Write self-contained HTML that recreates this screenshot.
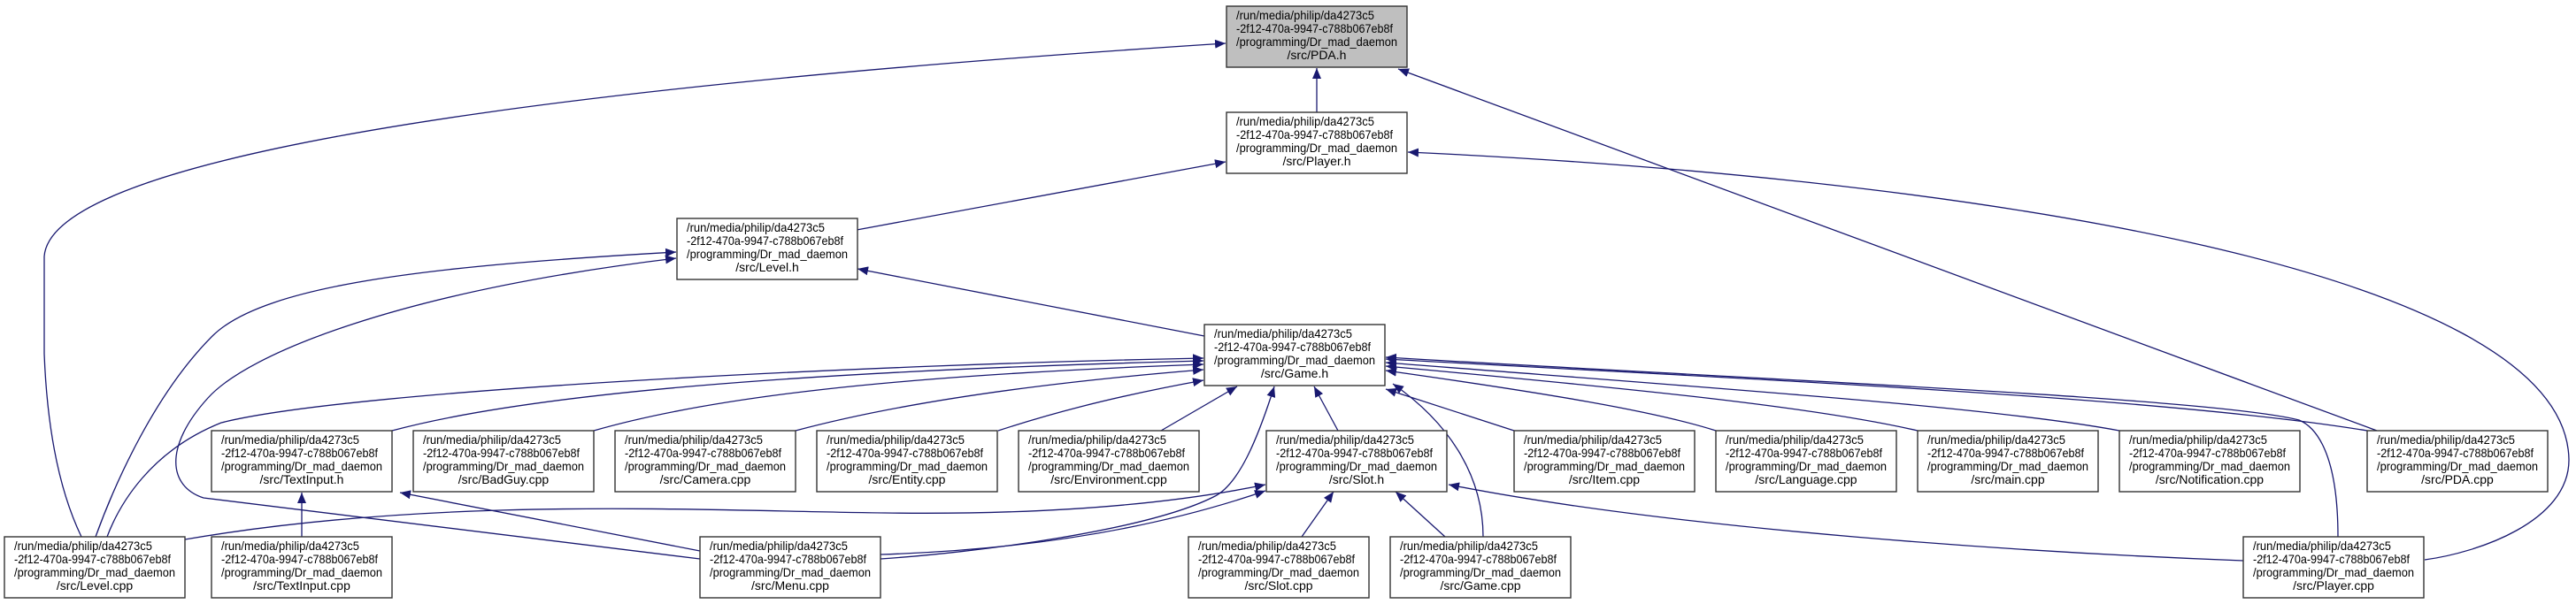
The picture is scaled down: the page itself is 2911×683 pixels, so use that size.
<!DOCTYPE html>
<html><head><meta charset="utf-8"><style>
html,body{margin:0;padding:0;background:#fff;}
svg{display:block;}
text{font-family:"Liberation Sans",Arial,sans-serif;font-size:14px;fill:#000;}
.b{fill:#fff;stroke:#333;stroke-width:1.4;}
.g{fill:#bfbfbf;stroke:#333;stroke-width:1.4;}
.e{fill:none;stroke:#191970;stroke-width:1.3;marker-start:url(#a);}
</style></head><body>
<svg width="2911" height="683" viewBox="0 0 2911 683" xmlns="http://www.w3.org/2000/svg">
<defs>
<marker id="a" viewBox="0 0 12 10" refX="12" refY="5" markerWidth="12" markerHeight="10" markerUnits="userSpaceOnUse" orient="auto-start-reverse">
<path d="M0,0 L12,5 L0,10 Z" fill="#191970"/>
</marker>
<g id="h">
<text x="11" y="15" textLength="156" lengthAdjust="spacingAndGlyphs">/run/media/philip/da4273c5</text>
<text x="11" y="30" textLength="177" lengthAdjust="spacingAndGlyphs">-2f12-470a-9947-c788b067eb8f</text>
<text x="11" y="45" textLength="182" lengthAdjust="spacingAndGlyphs">/programming/Dr_mad_daemon</text>
</g>
</defs>

<!-- edges -->
<path class="e" d="M1488,77 L1488,127"/>
<path class="e" d="M1385,49 C900,80 60,150 50,290 L50,400 Q55,530 92,607"/>
<path class="e" d="M1580,78 L2686,487"/>
<path class="e" d="M1385,183 L968,260"/>
<path class="e" d="M1591,172 C2200,200 2900,300 2903,520 C2903,590 2800,625 2740,633"/>
<path class="e" d="M764,285 C500,300 300,320 240,380 C170,450 125,560 108,607"/>
<path class="e" d="M764,292 C450,330 280,400 235,450 C185,505 190,550 230,563 L791,632"/>
<path class="e" d="M969,304 L1361,380"/>
<path class="e" d="M1360,405 C1000,412 400,440 250,478 C170,510 135,570 121,607"/>
<path class="e" d="M1360,408 C900,420 600,445 443,487"/>
<path class="e" d="M1360,412 C1000,425 800,450 671,487"/>
<path class="e" d="M1360,418 C1150,435 1000,460 899,487"/>
<path class="e" d="M1360,430 C1250,450 1180,470 1128,487"/>
<path class="e" d="M1398,437 L1312,487"/>
<path class="e" d="M1485,437 L1512,487"/>
<path class="e" d="M1440,437 C1420,500 1400,545 1375,560 C1300,600 1100,625 995,632"/>
<path class="e" d="M1574,434 C1640,480 1676,540 1676,607"/>
<path class="e" d="M1566,440 L1711,487"/>
<path class="e" d="M1566,419 C1750,445 1870,465 1939,487"/>
<path class="e" d="M1566,414 C1850,440 2050,460 2167,487"/>
<path class="e" d="M1566,410 C1950,440 2250,460 2395,487"/>
<path class="e" d="M1566,406 C2000,430 2450,450 2675,487"/>
<path class="e" d="M1566,404 C2000,430 2500,450 2598,475 C2610,480 2642,500 2642,607"/>
<path class="e" d="M1430,548 C1300,575 1150,582 1000,580 C800,578 500,560 209,610"/>
<path class="e" d="M1430,555 C1300,600 1150,622 995,627"/>
<path class="e" d="M1507,556 L1471,607"/>
<path class="e" d="M1577,556 L1633,607"/>
<path class="e" d="M1637,548 C1900,600 2300,625 2535,634"/>
<path class="e" d="M341,557 L341,607"/>
<path class="e" d="M452,557 L791,623"/>

<!-- nodes -->
<g transform="translate(1386,7)"><rect class="g" width="204" height="69"/><use href="#h"/><text x="102" y="60" text-anchor="middle">/src/PDA.h</text></g>
<g transform="translate(1386,127)"><rect class="b" width="204" height="69"/><use href="#h"/><text x="102" y="60" text-anchor="middle">/src/Player.h</text></g>
<g transform="translate(765,247)"><rect class="b" width="204" height="69"/><use href="#h"/><text x="102" y="60" text-anchor="middle">/src/Level.h</text></g>
<g transform="translate(1361,367)"><rect class="b" width="204" height="69"/><use href="#h"/><text x="102" y="60" text-anchor="middle">/src/Game.h</text></g>
<g transform="translate(239,487)"><rect class="b" width="204" height="69"/><use href="#h"/><text x="102" y="60" text-anchor="middle">/src/TextInput.h</text></g>
<g transform="translate(467,487)"><rect class="b" width="204" height="69"/><use href="#h"/><text x="102" y="60" text-anchor="middle">/src/BadGuy.cpp</text></g>
<g transform="translate(695,487)"><rect class="b" width="204" height="69"/><use href="#h"/><text x="102" y="60" text-anchor="middle">/src/Camera.cpp</text></g>
<g transform="translate(923,487)"><rect class="b" width="204" height="69"/><use href="#h"/><text x="102" y="60" text-anchor="middle">/src/Entity.cpp</text></g>
<g transform="translate(1151,487)"><rect class="b" width="204" height="69"/><use href="#h"/><text x="102" y="60" text-anchor="middle">/src/Environment.cpp</text></g>
<g transform="translate(1431,487)"><rect class="b" width="204" height="69"/><use href="#h"/><text x="102" y="60" text-anchor="middle">/src/Slot.h</text></g>
<g transform="translate(1711,487)"><rect class="b" width="204" height="69"/><use href="#h"/><text x="102" y="60" text-anchor="middle">/src/Item.cpp</text></g>
<g transform="translate(1939,487)"><rect class="b" width="204" height="69"/><use href="#h"/><text x="102" y="60" text-anchor="middle">/src/Language.cpp</text></g>
<g transform="translate(2167,487)"><rect class="b" width="204" height="69"/><use href="#h"/><text x="102" y="60" text-anchor="middle">/src/main.cpp</text></g>
<g transform="translate(2395,487)"><rect class="b" width="204" height="69"/><use href="#h"/><text x="102" y="60" text-anchor="middle">/src/Notification.cpp</text></g>
<g transform="translate(2675,487)"><rect class="b" width="204" height="69"/><use href="#h"/><text x="102" y="60" text-anchor="middle">/src/PDA.cpp</text></g>
<g transform="translate(5,607)"><rect class="b" width="204" height="69"/><use href="#h"/><text x="102" y="60" text-anchor="middle">/src/Level.cpp</text></g>
<g transform="translate(239,607)"><rect class="b" width="204" height="69"/><use href="#h"/><text x="102" y="60" text-anchor="middle">/src/TextInput.cpp</text></g>
<g transform="translate(791,607)"><rect class="b" width="204" height="69"/><use href="#h"/><text x="102" y="60" text-anchor="middle">/src/Menu.cpp</text></g>
<g transform="translate(1343,607)"><rect class="b" width="204" height="69"/><use href="#h"/><text x="102" y="60" text-anchor="middle">/src/Slot.cpp</text></g>
<g transform="translate(1571,607)"><rect class="b" width="204" height="69"/><use href="#h"/><text x="102" y="60" text-anchor="middle">/src/Game.cpp</text></g>
<g transform="translate(2535,607)"><rect class="b" width="204" height="69"/><use href="#h"/><text x="102" y="60" text-anchor="middle">/src/Player.cpp</text></g>
</svg>
</body></html>
